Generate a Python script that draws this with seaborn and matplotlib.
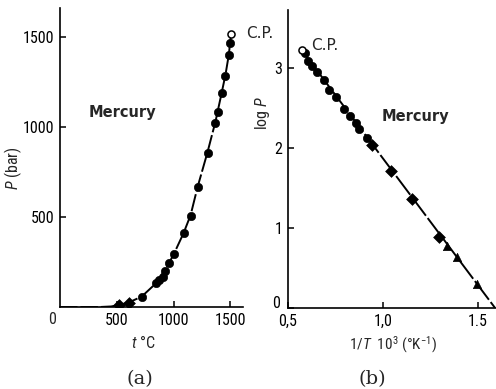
import matplotlib
matplotlib.use("Agg")
import matplotlib.pyplot as plt
import matplotlib.transforms as mtransforms
import seaborn as sns

sns.set_theme(style="white")
plt.rcParams['font.family'] = ['Roboto Condensed', 'DejaVu Sans']
plt.rcParams['mathtext.fontset'] = 'custom'
plt.rcParams['mathtext.rm'] = 'Roboto Condensed'
plt.rcParams['mathtext.it'] = 'Roboto Condensed:italic'
plt.rcParams['axes.linewidth'] = 1.2

# ---- panel (a): vapour pressure of mercury vs temperature ----
t_circ = [719, 842, 868, 903, 921, 956, 1000, 1087, 1149, 1210, 1298, 1368,
          1394, 1421, 1450, 1485, 1497]
P_circ = [56, 133, 150, 167, 200, 244, 294, 411, 506, 667, 855, 1022,
          1083, 1189, 1280, 1400, 1467]
t_diam = [517, 605]
P_diam = [11, 22]
t_cp, P_cp = [1505], [1515]
curve_t = [0, 350, 450, 517, 605, 719, 842, 921, 1000, 1087, 1149, 1210,
           1298, 1368, 1421, 1456, 1485, 1505]
curve_P = [0, 0, 3, 11, 25, 58, 130, 200, 292, 410, 510, 665,
           860, 1030, 1185, 1290, 1400, 1515]
a_xticks = [500, 1000, 1500]
a_yticks = [500, 1000, 1500]

# ---- panel (b): log P vs 1/T ----
x_circ = [0.589, 0.607, 0.625, 0.651, 0.689, 0.717, 0.753, 0.796, 0.826,
          0.856, 0.875, 0.917]
y_circ = [3.18, 3.08, 3.02, 2.95, 2.84, 2.72, 2.63, 2.48, 2.40, 2.31, 2.23, 2.12]
x_diam = [0.941, 1.041, 1.151, 1.296]
y_diam = [2.03, 1.71, 1.36, 0.89]
x_tri = [1.335, 1.391, 1.493]
y_tri = [0.775, 0.634, 0.30]
x_cp, y_cp = [0.572], [3.22]
line_x = [0.572, 1.59]
line_y = [3.22, 0.0]
b_xticks = [0.5, 1.0, 1.5]
b_xticklabels = ["0,5", "1,0", "1.5"]
b_yticks = [0, 1, 2, 3]

W, H = 496, 389
fig = plt.figure(figsize=(W / 100, H / 100), dpi=100)
axa = fig.add_axes([60 / W, 1 - 307 / H, 183 / W, 299 / H])
axb = fig.add_axes([288 / W, 1 - 308 / H, 209 / W, 298 / H])

ms = 36
lw = 1.4
# panel a
sns.lineplot(x=curve_t, y=curve_P, ax=axa, color="black", lw=lw, sort=False)
axa.lines[-1].set_dashes([9, 1.5])
sns.scatterplot(x=t_circ, y=P_circ, ax=axa, color="black", s=ms, marker="o",
                edgecolor="black", zorder=3)
sns.scatterplot(x=t_diam, y=P_diam, ax=axa, color="black", s=ms, marker="D",
                edgecolor="black", zorder=3)
sns.scatterplot(x=t_cp, y=P_cp, ax=axa, s=26, marker="o", facecolor="white",
                edgecolor="black", linewidth=1.1, zorder=4)
axa.set_xlim(0, 1610)
axa.set_ylim(0, 1660)
axa.set_xticks(a_xticks)
axa.set_yticks(a_yticks)
axa.set_xticklabels([str(v) for v in a_xticks])
axa.set_yticklabels([str(v) for v in a_yticks])

# panel b
sns.lineplot(x=line_x, y=line_y, ax=axb, color="black", lw=lw, sort=False)
axb.lines[-1].set_dashes([12, 1.5])
sns.scatterplot(x=x_circ, y=y_circ, ax=axb, color="black", s=ms, marker="o",
                edgecolor="black", zorder=3)
sns.scatterplot(x=x_diam, y=y_diam, ax=axb, color="black", s=ms, marker="D",
                edgecolor="black", zorder=3)
sns.scatterplot(x=x_tri, y=y_tri, ax=axb, color="black", s=ms, marker="^",
                edgecolor="black", zorder=3)
sns.scatterplot(x=x_cp, y=y_cp, ax=axb, s=26, marker="o", facecolor="white",
                edgecolor="black", linewidth=1.1, zorder=4)
axb.set_xlim(0.5, 1.6)
axb.set_ylim(0, 3.72)
axb.set_xticks(b_xticks)
axb.set_xticklabels(b_xticklabels)
axb.set_yticks(b_yticks)
axb.set_yticklabels([str(v) for v in b_yticks])

for ax in (axa, axb):
    for s in ("top", "right"):
        ax.spines[s].set_visible(False)
    for s in ("left", "bottom"):
        ax.spines[s].set_color("black")
    ax.tick_params(direction="in", length=4, width=1.1, colors="black",
                   labelsize=11.5, pad=4, left=True, bottom=True)
    ax.set_xlabel("")
    ax.set_ylabel("")

# lift the "0" y tick label of panel b a little, as in the reference
lab0 = axb.get_yticklabels()[0]
lab0.set_transform(lab0.get_transform() +
                   mtransforms.ScaledTranslation(-2 / 72, 4 / 72, fig.dpi_scale_trans))

# annotations
fig.text(89 / W, 1 - 112 / H, "Mercury", ha="left", va="center",
         fontsize=10.5, fontweight="bold", family="DejaVu Sans")
fig.text(382 / W, 1 - 116 / H, "Mercury", ha="left", va="center",
         fontsize=10.5, fontweight="bold", family="DejaVu Sans")
fig.text(246 / W, 1 - 33 / H, "C.P.", ha="left", va="center",
         fontsize=11, family="DejaVu Sans")
fig.text(311 / W, 1 - 45 / H, "C.P.", ha="left", va="center",
         fontsize=11, family="DejaVu Sans")

# origin "0" of panel a
fig.text(52 / W, 1 - 320 / H, "0", ha="center", va="center", fontsize=11.5)

# axis labels
fig.text(13 / W, 1 - 168 / H, r"$\mathit{P}$ (bar)", rotation=90,
         ha="center", va="center", fontsize=11.5)
fig.text(263 / W, 1 - 113 / H, r"log $\mathit{P}$", rotation=90,
         ha="center", va="center", fontsize=11.5)
fig.text(143 / W, 1 - 342 / H, r"$\mathit{t}$ °C", ha="center", va="center",
         fontsize=11.5)
fig.text(393 / W, 1 - 345 / H, r"$\mathit{1/T}$  10$^3$ (°K$^{-1}$)",
         ha="center", va="center", fontsize=11)

fig.text(140 / W, 1 - 379 / H, "(a)", ha="center", va="center",
         fontsize=14, family="DejaVu Serif")
fig.text(372 / W, 1 - 379 / H, "(b)", ha="center", va="center",
         fontsize=14, family="DejaVu Serif")

fig.savefig("out.png", dpi=100, facecolor="white")
